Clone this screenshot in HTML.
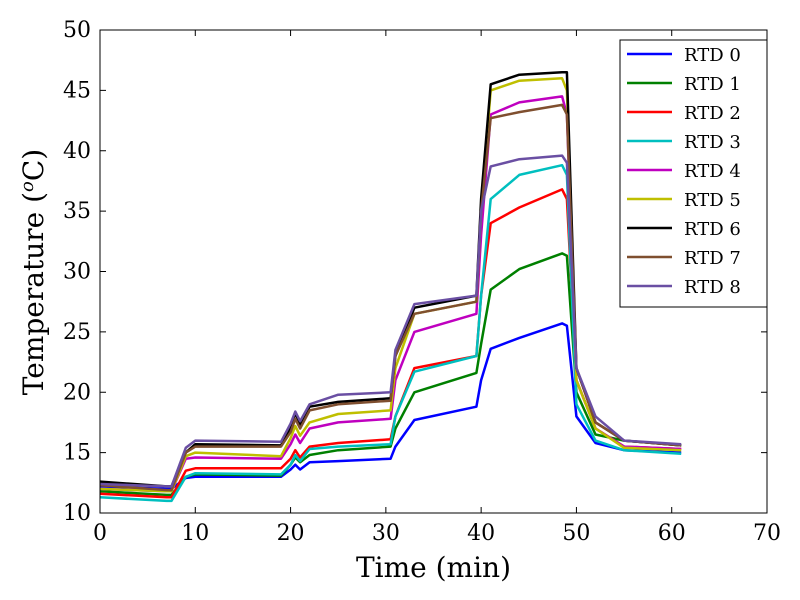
<!DOCTYPE html>
<html><head><meta charset="utf-8"><style>
body{margin:0;background:#fff;}
svg{display:block;font-family:"DejaVu Serif","Liberation Serif",serif;}
</style></head><body>
<svg id="chart" width="800" height="600"></svg>
<script>
const times=[0,7,7.5,9,10,19,20,20.5,21,22,25,30.5,31,33,39.5,40,41,44,48.5,49,50,52,55,61];
const seriesNames=["RTD 0","RTD 1","RTD 2","RTD 3","RTD 4","RTD 5","RTD 6","RTD 7","RTD 8"];
const seriesColors=["#0000ff","#008000","#ff0000","#00bfbf","#bf00bf","#bfbf00","#000000","#7f4f2f","#6a4fa3"];
const rtd0=[12.2,12.0,12.0,12.9,13.0,13.0,13.6,14.0,13.6,14.2,14.3,14.5,15.5,17.7,18.8,21,23.6,24.5,25.7,25.5,18,15.8,15.2,15.0];
const rtd1=[11.8,11.5,11.5,13,13.2,13.1,14,14.6,14.2,14.8,15.2,15.5,17,20,21.6,24,28.5,30.2,31.5,31.3,20,16.5,16.0,15.6];
const rtd2=[11.6,11.3,11.3,13.5,13.7,13.7,14.5,15.2,14.6,15.5,15.8,16.1,18,22,23.0,28,34,35.3,36.8,36,21,17,15.5,15.3];
const rtd3=[11.3,11.0,11.0,13,13.3,13.2,14,14.8,14.3,15.3,15.5,15.7,18,21.7,23,28,36,38,38.8,38,19,16,15.2,14.9];
const rtd4=[12.0,11.8,11.8,14.5,14.6,14.5,15.7,16.5,15.8,17,17.5,17.8,21,25,26.5,33,43,44,44.5,43,21,17,15.5,15.3];
const rtd5=[12.0,11.8,11.8,14.7,15,14.7,16.2,17.2,16.4,17.5,18.2,18.5,22,26.5,27.5,35,45,45.8,46,45,21,17,15.4,15.2];
const rtd6=[12.6,12.2,12.2,15,15.7,15.6,17,18.3,17.3,18.8,19.2,19.5,23,27,28,36,45.5,46.3,46.5,46.5,22,17.5,16,15.6];
const rtd7=[12.3,11.9,11.9,15,15.5,15.5,16.7,17.8,17,18.5,19,19.3,23,26.5,27.5,35,42.7,43.2,43.8,43,22,17.5,16,15.6];
const rtd8=[12.4,12.2,12.2,15.4,16.0,15.9,17.4,18.4,17.6,19,19.8,20,23.5,27.3,28,35,38.7,39.3,39.6,39,22,18,16,15.7];
const allSeries=[rtd0,rtd1,rtd2,rtd3,rtd4,rtd5,rtd6,rtd7,rtd8];
const xTicks=[0,10,20,30,40,50,60,70];
const yTicks=[10,15,20,25,30,35,40,45,50];

const NS="http://www.w3.org/2000/svg";
const svg=document.getElementById('chart');
const L=100,R=767,T=30,B=513;
const X=v=>L+(v-0)/70*(R-L);
const Y=v=>B-(v-10)/40*(B-T);
function mk(tag,attrs,parent){const e=document.createElementNS(NS,tag);for(const k in attrs)e.setAttribute(k,attrs[k]);(parent||svg).appendChild(e);return e;}

allSeries.forEach((s,i)=>{
  const d=s.map((v,j)=>(j?'L':'M')+X(times[j]).toFixed(1)+','+Y(v).toFixed(1)).join(' ');
  const p=mk('path',{d:d,fill:'none',stroke:seriesColors[i],'stroke-width':2.5,'stroke-linejoin':'round'});
  
  
});

const frame=mk('rect',{x:L,y:T,width:R-L,height:B-T,fill:'none',stroke:'#000','stroke-width':1});



xTicks.forEach(t=>{
  const x=X(t);
  mk('line',{x1:x,x2:x,y1:B,y2:B-6,stroke:'#000'});
  mk('line',{x1:x,x2:x,y1:T,y2:T+6,stroke:'#000'});
  const tx=mk('text',{x:x,y:B+27,'text-anchor':'middle','font-size':22});
  tx.textContent=t;
  
  
});
yTicks.forEach(t=>{
  const y=Y(t);
  mk('line',{x1:L,x2:L+6,y1:y,y2:y,stroke:'#000'});
  mk('line',{x1:R,x2:R-6,y1:y,y2:y,stroke:'#000'});
  const tx=mk('text',{x:L-9,y:y+7,'text-anchor':'end','font-size':22});
  tx.textContent=t;
  
  
});

const xt=mk('text',{x:(L+R)/2,y:577,'text-anchor':'middle','font-size':28});
xt.textContent='Time (min)';



const yt=mk('text',{x:0,y:0,'text-anchor':'middle','font-size':28,transform:'translate(43,272) rotate(-90)'});
yt.innerHTML='Temperature (<tspan font-style="italic" dy="-10" font-size="18">o</tspan><tspan dy="10">C)</tspan>';



const lg=mk('g',{});


mk('rect',{x:620,y:40,width:147,height:267,fill:'#fff',stroke:'#000'},lg);
seriesNames.forEach((n,i)=>{
  const y=54+i*29;
  const ln=mk('line',{x1:627,x2:672,y1:y,y2:y,stroke:seriesColors[i],'stroke-width':2.5},lg);
  
  
  const tx=mk('text',{x:684,y:y+7,'font-size':18},lg);
  tx.textContent=n;
  
  
});
</script>
</body></html>
